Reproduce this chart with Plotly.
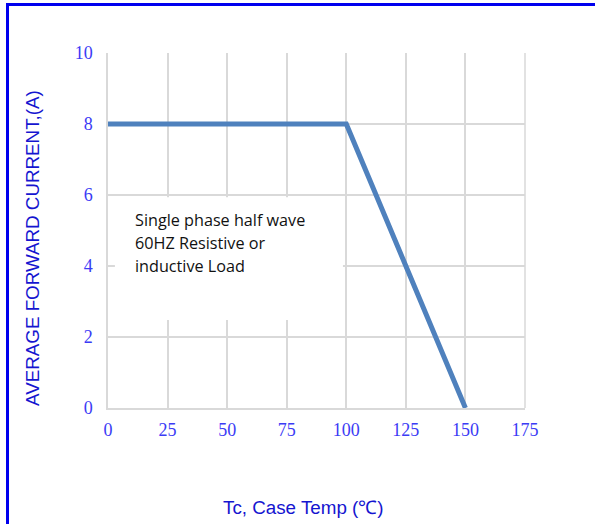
import plotly.graph_objects as go

temps = [0, 100, 150]
current = [8, 8, 0]
x_ticks = [0, 25, 50, 75, 100, 125, 150, 175]
y_ticks = [0, 2, 4, 6, 8, 10]
note_lines = ["Single phase half wave", "60HZ Resistive or", "inductive Load"]
x_title = "Tc, Case Temp (℃)"
y_title = "AVERAGE FORWARD CURRENT,(A)"

L, R, T, B = 108, 525, 53, 408
W, H = 595, 524

def px2paper_x(px):
    return (px - L) / (R - L)

def px2paper_y(py):
    return (B - py) / (B - T)

fig = go.Figure()
fig.add_trace(go.Scatter(x=temps, y=current, mode="lines",
                         line=dict(color="#4f81bd", width=5), showlegend=False))

tick_font = dict(family="Liberation Serif, serif", size=18, color="#3b3bf5")
fig.update_xaxes(range=[0, 175], tickvals=x_ticks, showgrid=True, gridcolor="#d9d9d9", gridwidth=1.5,
                 showline=True, linecolor="#d9d9d9", linewidth=1.5, zeroline=False,
                 ticks="", tickfont=tick_font, mirror=False, ticklabelstandoff=5)
fig.update_yaxes(range=[0, 10], tickvals=y_ticks, showgrid=True, gridcolor="#d9d9d9", gridwidth=1.5,
                 showline=True, linecolor="#d9d9d9", linewidth=1.5, zeroline=False,
                 ticks="", tickfont=tick_font, ticklabelstandoff=10)

fig.add_shape(type="line", xref="paper", yref="paper", x0=1, x1=1, y0=0, y1=1,
              line=dict(color="#d9d9d9", width=1.5), layer="below")

# white box behind note
fig.add_shape(type="rect", xref="x", yref="y", x0=2.9, x1=98.6, y0=2.48, y1=5.94,
              fillcolor="white", line=dict(width=0), layer="between")

note_y = [220, 243, 266]
for line_text, py in zip(note_lines, note_y):
    fig.add_annotation(xref="paper", yref="paper", x=px2paper_x(133), y=px2paper_y(py),
                       xanchor="left", yanchor="middle", align="left", showarrow=False,
                       text=line_text,
                       font=dict(family="Open Sans, sans-serif", size=16.2, color="#111111"))

title_font = dict(family="Liberation Sans, Arial, sans-serif", size=18.8, color="#1515d0")
fig.add_annotation(xref="paper", yref="paper", x=px2paper_x(303), y=px2paper_y(507),
                   xanchor="center", yanchor="middle", showarrow=False, text=x_title, font=title_font)
fig.add_annotation(xref="paper", yref="paper", x=px2paper_x(33), y=px2paper_y(248),
                   xanchor="center", yanchor="middle", showarrow=False, text=y_title,
                   textangle=-90, font=title_font)

# blue border lines (top and left)
fig.add_shape(type="line", xref="paper", yref="paper", x0=px2paper_x(7.5), x1=px2paper_x(600),
              y0=px2paper_y(4.5), y1=px2paper_y(4.5), line=dict(color="#0000ee", width=3))
fig.add_shape(type="line", xref="paper", yref="paper", x0=px2paper_x(7.5), x1=px2paper_x(7.5),
              y0=px2paper_y(3), y1=px2paper_y(530), line=dict(color="#0000ee", width=3))

fig.update_layout(width=W, height=H, margin=dict(l=L, r=W - R, t=T, b=H - B),
                  plot_bgcolor="white", paper_bgcolor="white")
fig.write_html("out.html", config={"displayModeBar": False},
               post_script="document.body.style.margin='0';document.body.style.overflow='hidden';")
